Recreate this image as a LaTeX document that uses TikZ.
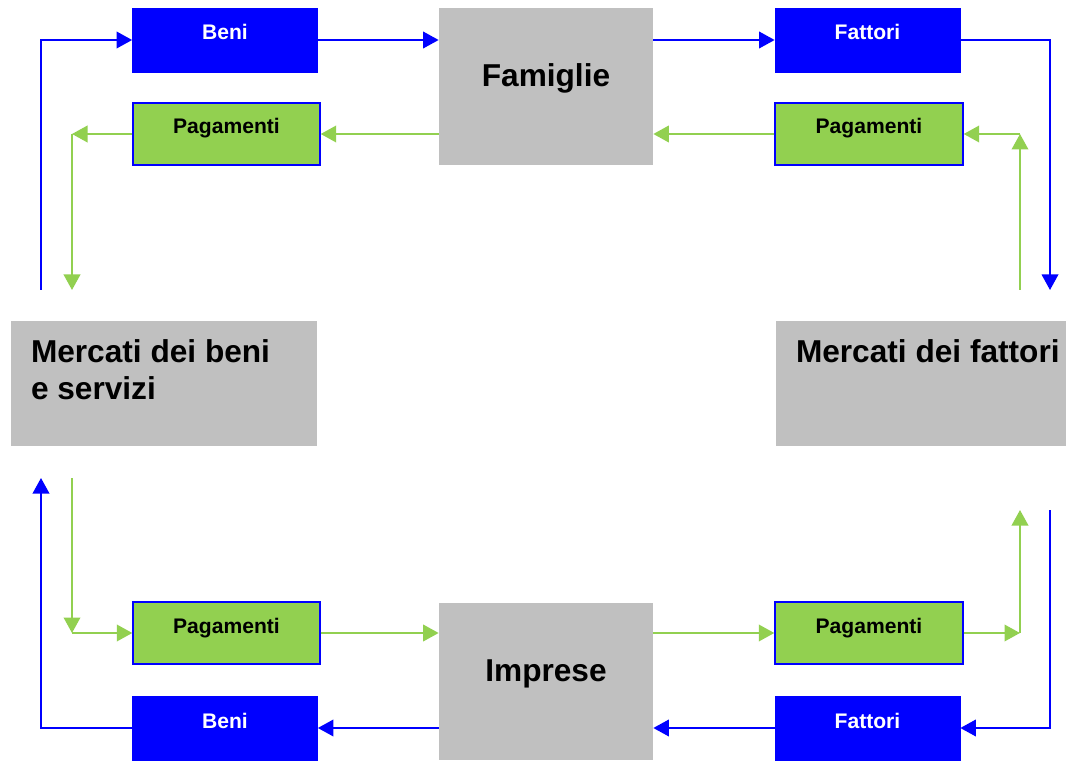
\documentclass[tikz,border=0pt]{standalone}
\usepackage{fontspec}
\setmainfont{Liberation Sans}
\usetikzlibrary{arrows.meta}
\definecolor{flowblue}{RGB}{0,0,255}
\definecolor{flowgreen}{RGB}{146,208,80}
\definecolor{boxgray}{RGB}{192,192,192}
\begin{document}
\begin{tikzpicture}[>={Triangle[length=0.31cm,width=0.33cm]},
	goods node/.style={fill=flowblue,draw=flowblue,text=white,inner sep=0pt,minimum width=3.7cm,text height=0.64cm,text depth=0.64cm},
	pay node/.style={fill=flowgreen,draw=flowblue,line width=0.8pt,text=black,inner sep=0pt,minimum width=3.74cm,text height=0.62cm,text depth=0.62cm},
	sector node/.style={fill=boxgray,inner sep=0pt,minimum width=4.28cm,text height=1.57cm,text depth=1.57cm,font=\fontsize{18}{21}\selectfont\bfseries},
	market node/.style={fill=boxgray,inner sep=0pt,minimum height=2.5cm},
	market text/.style={anchor=north west,inner sep=0pt,align=left,xshift=0.4cm,yshift=-0.38cm,font=\fontsize{18}{21}\selectfont\bfseries},
	blue flow/.style={draw=flowblue,line width=1.1pt},
	green flow/.style={draw=flowgreen,line width=1.2pt}]
	\tikzstyle{every node}=[font=\fontsize{12}{14}\selectfont\bfseries]
	\useasboundingbox (0,0) rectangle (21.32,15.2);
	% famiglie
	\draw (10.92,13.47) node(fam) [sector node] {Famiglie}
	      (4.5,14.4) node(beniT) [goods node] {Beni}
	      (4.53,12.52) node(pagTL) [pay node] {Pagamenti}
	      (17.35,14.4) node(fatT) [goods node] {Fattori}
	      (17.38,12.52) node(pagTR) [pay node, minimum width=3.76cm] {Pagamenti};
	% imprese
	\draw (10.92,1.57) node(imp) [sector node] {Imprese}
	      (4.53,2.54) node(pagBL) [pay node] {Pagamenti}
	      (4.5,0.64) node(beniB) [goods node] {Beni}
	      (17.38,2.54) node(pagBR) [pay node, minimum width=3.76cm] {Pagamenti}
	      (17.35,0.64) node(fatB) [goods node] {Fattori};
	% mercati
	\node(mbs) [market node, minimum width=6.12cm, label={[market text]north west:Mercati dei beni\\e servizi}] at (3.28,7.53) {};
	\node(mfa) [market node, minimum width=5.8cm, label={[market text]north west:Mercati dei fattori}] at (18.42,7.53) {};
	% free ends
	\coordinate (bl1) at (0.82,9.4);
	\coordinate (gl1) at (1.44,12.52);
	\coordinate (gl2) at (1.44,9.4);
	\coordinate (bl2) at (0.82,5.64);
	\coordinate (gl3) at (1.44,5.64);
	\coordinate (gl4) at (1.44,2.54);
	\coordinate (br1) at (21.0,9.4);
	\coordinate (gr1) at (20.4,9.4);
	\coordinate (gr2) at (20.4,12.52);
	\coordinate (gr3) at (20.4,2.54);
	\coordinate (gr4) at (20.4,5.0);
	\coordinate (br2) at (21.0,5.0);
	% beni e fattori
	\draw[blue flow,->] (bl1) |- (beniT.west);
	\draw[blue flow,->] (beniT.east) -- (beniT.east -| fam.west);
	\draw[blue flow,->] (beniT.east -| fam.east) -- (fatT.west);
	\draw[blue flow,->] (fatT.east) -| (br1);
	\draw[blue flow,->] (br2) |- (fatB.east);
	\draw[blue flow,->] (fatB.west) -- (fatB.west -| imp.east);
	\draw[blue flow,->] (fatB.west -| imp.west) -- (beniB.east);
	\draw[blue flow,->] (beniB.west) -| (bl2);
	% pagamenti
	\draw[green flow,->] (pagTR.west -| fam.west) -- (pagTL.east);
	\draw[green flow,->] (pagTL.west) -- (gl1);
	\draw[green flow,->] (gl1) -- (gl2);
	\draw[green flow,->] (gl3) -- (gl4);
	\draw[green flow,->] (gl4) -- (pagBL.west);
	\draw[green flow,->] (pagBL.east) -- (pagBL.east -| imp.west);
	\draw[green flow,->] (pagBL.east -| imp.east) -- (pagBR.west);
	\draw[green flow,->] (pagBR.east) -- (gr3);
	\draw[green flow,->] (gr3) -- (gr4);
	\draw[green flow,->] (gr1) -- (gr2);
	\draw[green flow,->] (gr2) -- (pagTR.east);
	\draw[green flow,->] (pagTR.west) -- (pagTR.west -| fam.east);
\end{tikzpicture}
\end{document}
